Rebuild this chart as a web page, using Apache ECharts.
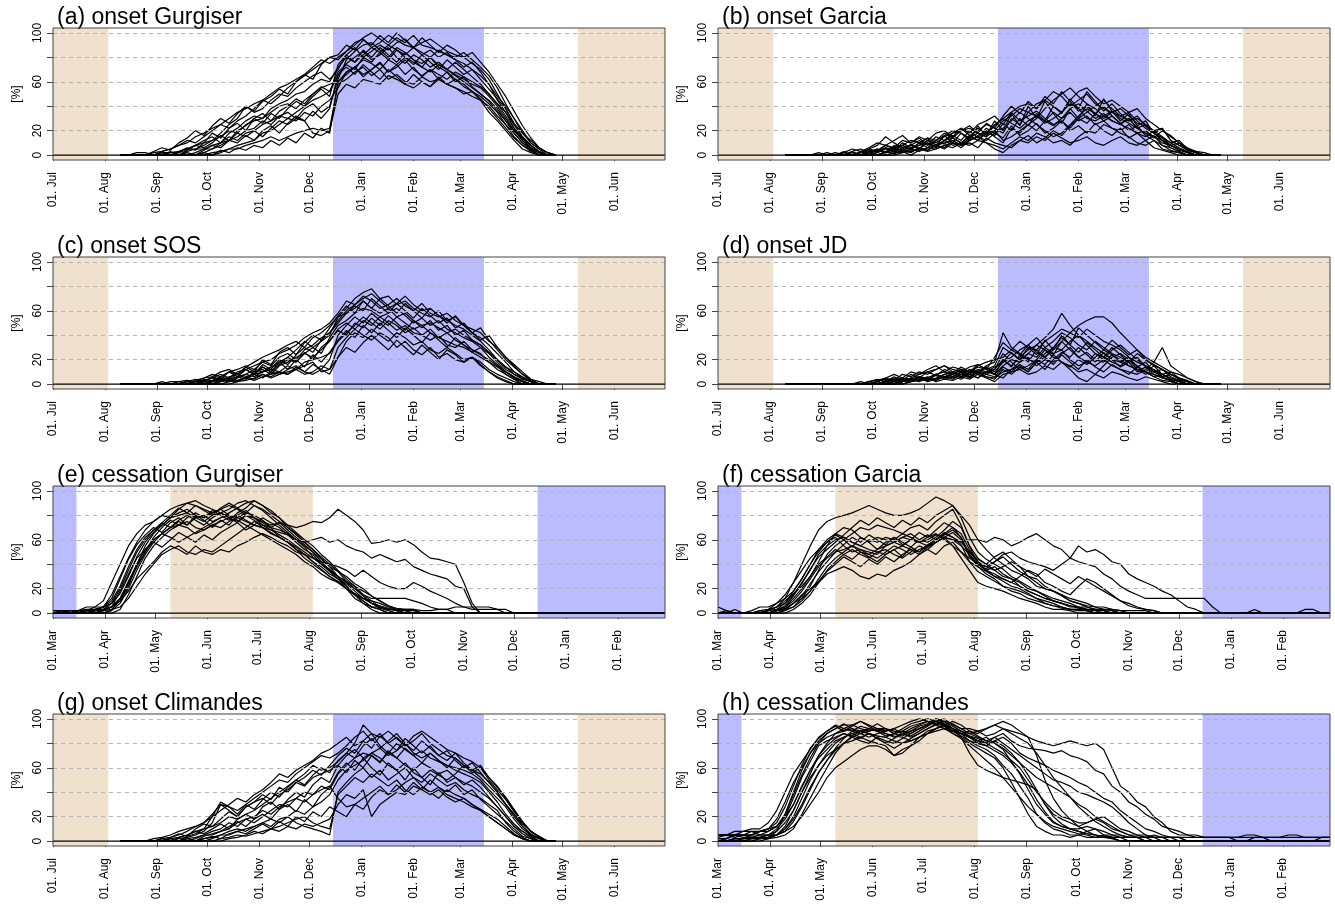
<!DOCTYPE html>
<html>
<head>
<meta charset="utf-8">
<title>Onset / cessation</title>
<script src="https://cdn.jsdelivr.net/npm/echarts@6/dist/echarts.min.js"></script>
<style>
  html, body { margin: 0; padding: 0; background: #fff; }
  #chart { width: 1335px; height: 906px; }
</style>
</head>
<body>
<div id="chart"></div>
<script>
// x axes: days since 01. Jul (onset) or 01. Mar (cessation)
var onsetTicks = [0, 31, 62, 92, 123, 153, 184, 215, 243, 274, 304, 335];
var onsetMonths = ['Jul', 'Aug', 'Sep', 'Oct', 'Nov', 'Dec', 'Jan', 'Feb', 'Mar', 'Apr', 'May', 'Jun'];
var cessTicks = [0, 31, 61, 92, 122, 153, 184, 214, 245, 275, 306, 337];
var cessMonths = ['Mar', 'Apr', 'May', 'Jun', 'Jul', 'Aug', 'Sep', 'Oct', 'Nov', 'Dec', 'Jan', 'Feb'];
var fullRange = [0, 365];
var yTicks = [0, 20, 40, 60, 80, 100];
var yLabels = [0, 20, 60, 100];
var gridLevels = [20, 40, 60, 80, 100];

// shaded seasons [start, end] in days
var onsetTan = [[0, 33], [313, 365]];
var onsetBlue = [[167, 257]];
var cessTan = [[70, 155]];
var cessBlue = [[0, 14], [289, 365]];

// sample days
var onsetDays = [40,45,50,55,60,65,70,75,80,85, 90,95,100,105,110,115,120,125,130,135,
  140,145,150,155,160,165,170,175,180,185, 190,195,200,205,210,215,220,225,230,235,
  240,245,250,255,260,265,270,275,280,285, 290,295,300];
var cessDays = [0,5,10,15,20,25,30,35,40,45, 50,55,60,65,70,75,80,85,90,95,
  100,105,110,115,120,125,130,135,140,145, 150,155,160,165,170,175,180,185,190,195,
  200,205,210,215,220,225,230,235,240,245, 250,255,260,265,270,275,280,285,290,295,
  300,305,310,315,320,325,330,335,340,345, 350,355,360,365];

// [%] per member
var gurgiserOnset = [
  [0,0,0,0,2,3,5,8,10,15, 18,22,25,30,35,38,42,45,50,55, 58,62,66,72,78,75,80,85,92,95, 88,92,98,94,90,88,92,95,90,85, 82,80,75,70,62,50,38,25,15,8, 3,0,0],
  [0,0,0,0,0,0,2,2,5,5, 8,12,18,25,30,40,35,38,45,50, 48,55,60,65,68,62,70,82,88,80, 85,90,86,92,95,88,82,86,80,84, 78,72,76,68,58,45,35,22,12,5, 0,0,0],
  [0,0,0,0,0,0,0,0,3,5, 5,8,10,12,18,15,20,25,28,32, 30,35,40,45,48,52,65,75,80,85, 78,82,88,80,75,82,78,72,76,70, 65,60,55,50,45,38,28,18,10,5, 2,0,0],
  [0,0,0,0,0,0,0,0,0,0, 0,2,3,5,5,8,10,12,15,12, 15,18,20,22,20,22,58,62,68,72, 65,70,62,66,60,58,64,60,62,58, 55,52,48,45,40,32,25,18,10,4, 0,0,0],
  [0,0,2,2,0,3,5,8,12,10, 15,20,25,22,28,32,38,45,42,48, 55,60,65,70,75,80,78,85,90,96, 100,95,90,96,92,98,90,88,85,82, 80,84,78,72,65,55,42,30,18,10, 5,2,0],
  [0,0,0,0,0,0,0,2,5,8, 10,12,15,20,18,25,28,30,35,40, 42,38,45,50,55,58,60,68,72,78, 75,70,78,74,80,76,72,68,74,70, 66,62,58,55,48,40,30,20,12,6, 2,0,0],
  [0,0,0,0,0,0,0,0,0,2, 5,5,8,12,15,20,22,28,25,32, 35,30,38,42,35,40,62,78,85,90, 92,86,80,88,84,78,75,80,72,68, 62,58,52,45,35,28,20,12,5,2, 0,0,0],
  [0,0,0,0,0,0,0,0,0,0, 2,5,10,15,12,18,20,15,22,28, 25,30,28,18,16,20,50,58,55,62, 60,58,65,62,58,55,60,56,62,58, 55,50,52,48,42,35,25,15,8,3, 0,0,0],
  [0,0,0,0,0,2,2,3,5,8, 12,15,10,18,22,28,32,30,38,42, 45,50,52,58,62,60,72,80,76,82, 88,84,90,86,82,88,84,80,86,82, 78,75,70,65,58,48,40,30,20,10, 5,0,0],
  [0,0,0,0,0,0,0,0,0,0, 0,0,2,5,8,10,12,18,20,25, 30,28,35,32,40,45,55,68,72,66, 70,75,68,72,78,70,65,70,66,62, 68,64,60,56,50,42,35,25,15,8, 3,0,0],
  [0,0,0,0,0,2,0,3,6,4, 10,18,14,22,26,20,30,34,28,36, 40,46,42,50,56,52,68,74,70,80, 76,84,78,86,80,74,82,76,70,78, 72,66,70,62,54,46,38,26,18,12, 6,2,0],
  [0,0,0,0,0,0,0,0,0,0, 2,0,4,2,6,4,8,6,12,8, 14,10,18,14,22,18,60,66,72,64, 70,76,68,74,66,72,64,70,62,68, 60,64,56,50,44,36,28,20,14,8, 2,0,0],
  [0,0,0,0,3,6,4,10,14,20, 16,24,30,26,34,40,36,44,48,54, 50,60,66,62,74,80,82,90,86,94, 90,98,92,100,94,88,96,90,84,90, 86,80,84,76,68,58,48,36,24,14, 6,2,0],
  [0,0,0,0,0,0,0,0,2,0, 4,8,6,12,10,16,12,20,24,18, 26,32,28,36,30,38,66,72,66,74, 68,62,70,64,58,66,60,56,64,58, 62,56,52,46,38,30,22,14,8,4, 0,0,0],
  [0,0,0,0,0,0,3,0,4,8, 6,10,16,12,20,24,30,26,34,30, 38,44,40,48,54,48,74,82,76,86, 80,88,82,76,84,78,72,80,74,70, 76,70,64,58,50,42,32,22,14,6, 2,0,0]
];
var garciaOnset = [
  [0,0,0,0,0,0,0,2,0,2, 3,5,2,8,5,3,6,4,8,10, 12,8,14,18,15,20,28,32,38,35, 42,45,52,48,40,45,50,42,38,35, 32,28,30,25,20,15,10,12,5,3, 0,0,0],
  [0,0,0,0,0,0,0,0,2,0, 2,3,6,4,10,6,8,12,10,15, 18,22,16,20,25,22,18,30,25,35, 32,28,35,30,38,42,36,30,34,28, 25,30,22,18,15,10,8,5,2,0, 0,0,0],
  [0,0,0,0,0,0,0,0,0,0, 0,2,5,3,5,8,5,10,6,12, 8,10,15,12,18,20,12,15,20,25, 30,38,45,50,55,48,42,38,32,28, 25,22,18,20,15,12,8,5,3,0, 0,0,0],
  [0,0,0,0,0,0,0,0,0,2, 5,8,15,10,6,8,12,8,15,12, 18,20,22,18,15,25,30,35,28,32, 36,30,25,28,22,30,35,40,45,38, 32,35,28,22,18,12,6,3,0,0, 0,0,0],
  [0,0,0,0,0,0,0,0,0,0, 0,0,2,3,2,5,3,6,8,5, 10,8,12,15,10,8,5,10,15,12, 18,15,10,12,8,15,20,18,25,22, 18,15,10,8,12,5,3,2,0,0, 0,0,0],
  [0,0,0,0,0,2,0,0,3,5, 2,4,8,6,12,10,15,12,18,20, 15,22,18,25,28,32,25,35,40,42, 38,45,40,35,45,52,55,48,42,45, 40,35,38,30,25,20,15,10,6,3, 2,0,0],
  [0,0,0,0,0,0,0,0,0,0, 2,0,3,5,4,6,8,10,7,12, 14,10,12,16,20,15,10,22,18,25, 20,28,24,30,35,28,32,25,28,22, 20,25,18,15,20,22,12,8,5,2, 0,0,0],
  [0,0,0,0,0,0,0,0,0,0, 0,0,0,2,3,0,4,6,5,8, 10,6,12,15,12,18,22,28,35,30, 25,20,15,18,25,32,38,34,30,35, 38,32,26,24,18,14,10,6,3,0, 0,0,0],
  [0,0,0,0,2,0,0,2,5,3, 6,10,8,5,8,12,10,14,12,16, 20,18,14,22,18,24,30,26,22,28, 32,26,30,35,42,38,30,28,32,36, 30,26,22,25,18,12,8,4,2,0, 0,0,0],
  [0,0,0,0,0,0,0,0,0,0, 0,0,0,0,2,3,5,3,5,8, 6,10,8,12,10,5,2,8,12,10, 15,12,18,14,10,12,15,10,8,12, 15,10,8,12,6,4,2,0,0,0, 0,0,0],
  [0,0,0,0,0,0,2,0,3,0, 4,2,6,3,8,5,10,6,12,9, 14,10,16,12,20,16,26,20,30,24, 34,28,40,34,46,38,52,44,36,42, 34,28,32,24,18,22,12,8,4,2, 0,0,0],
  [0,0,0,0,0,0,0,0,0,3, 0,5,2,7,3,9,5,12,8,16, 10,18,12,24,16,28,20,34,24,40, 30,44,34,26,38,30,42,32,46,36, 28,34,24,28,18,14,8,10,4,2, 0,0,0],
  [0,0,0,0,0,0,0,0,0,0, 2,4,2,5,8,4,10,14,8,12, 16,12,20,14,22,18,14,24,16,20, 26,18,22,28,20,24,18,26,20,16, 22,14,18,12,16,8,6,3,0,0, 0,0,0],
  [0,0,0,0,0,0,0,3,0,2, 5,3,8,12,16,10,14,8,12,18, 14,20,24,18,26,22,32,40,34,44, 38,48,42,52,44,36,40,34,28,32, 26,20,24,16,12,8,4,2,0,0, 0,0,0],
  [0,0,0,0,0,0,0,0,0,0, 0,0,3,1,4,2,6,4,8,6, 12,8,10,6,14,10,8,6,12,16, 10,14,20,16,24,30,26,34,40,32, 26,30,22,18,14,20,16,10,5,2, 0,0,0]
];
var sosOnset = [
  [0,0,0,0,0,0,0,0,2,0, 2,5,3,6,8,5,10,12,8,15, 18,22,25,30,35,40,55,62,70,75, 78,70,72,65,68,62,58,55,60,52, 48,45,40,35,28,20,12,8,5,2, 0,0,0],
  [0,0,0,0,0,0,0,0,0,0, 0,2,4,2,5,8,6,10,14,18, 22,28,35,30,25,38,48,52,58,62, 60,55,58,62,56,50,54,48,52,45, 42,38,35,30,25,18,10,5,2,0, 0,0,0],
  [0,0,0,0,0,0,0,0,0,0, 0,0,2,3,2,5,8,5,10,8, 12,15,10,8,12,20,40,48,55,50, 58,52,48,55,50,45,48,42,38,42, 36,32,28,25,18,12,8,4,0,0, 0,0,0],
  [0,0,0,0,0,0,2,2,0,3, 5,8,6,10,12,15,12,18,20,25, 28,32,38,42,45,50,58,68,65,72, 68,62,65,70,64,60,66,58,55,58, 52,48,45,42,35,30,22,15,8,3, 0,0,0],
  [0,0,0,0,0,0,0,0,0,0, 0,0,0,2,3,5,3,6,8,10, 8,12,15,18,10,12,22,35,42,38, 45,40,35,42,38,32,35,28,25,30, 25,20,22,18,12,8,5,2,0,0, 0,0,0],
  [0,0,0,0,0,0,0,0,0,2, 3,5,8,5,10,12,15,18,15,22, 25,20,28,32,38,42,52,60,65,70, 74,68,62,66,72,65,60,62,56,52, 55,48,42,38,32,25,18,10,5,2, 0,0,0],
  [0,0,0,0,0,0,0,0,0,0, 2,3,5,4,6,8,12,10,14,16, 20,18,25,22,28,35,45,50,45,52, 48,55,50,44,48,42,40,45,38,35, 32,30,26,22,18,14,10,6,3,0, 0,0,0],
  [0,0,0,0,0,0,0,0,0,0, 0,0,0,0,2,3,5,8,5,8, 10,12,8,10,15,12,30,38,45,40, 36,42,38,30,35,28,24,30,22,25, 20,18,22,15,10,5,2,0,0,0, 0,0,0],
  [0,0,0,0,0,0,0,2,3,2, 5,6,10,12,8,14,18,22,25,28, 32,35,30,38,42,48,55,58,62,68, 62,58,62,55,58,52,48,50,46,42, 45,40,36,32,26,20,14,8,4,2, 0,0,0],
  [0,0,0,0,0,0,0,0,0,0, 0,2,3,5,3,6,8,10,12,10, 15,12,18,20,22,25,35,42,48,55, 50,45,52,48,42,46,40,36,40,32, 30,35,28,24,20,15,8,4,2,0, 0,0,0],
  [0,0,0,0,0,0,0,0,3,0, 4,2,6,10,6,12,8,16,12,20, 16,24,30,26,36,42,50,58,64,60, 70,64,58,66,60,54,62,56,50,54, 46,50,42,36,40,30,22,16,10,4, 0,0,0],
  [0,0,0,0,0,0,0,0,0,0, 2,0,4,2,6,4,8,14,10,18, 12,20,14,24,18,26,36,44,38,48, 42,50,44,38,46,40,34,42,36,30, 38,32,26,30,22,16,10,6,2,0, 0,0,0],
  [0,0,0,0,0,2,0,0,2,4, 2,6,4,10,8,14,10,20,16,26, 30,24,34,40,36,46,56,64,58,68, 62,70,64,58,66,60,54,62,56,50, 56,48,42,46,36,28,20,14,8,4, 2,0,0],
  [0,0,0,0,0,0,0,0,0,0, 0,0,2,4,2,6,4,8,6,10, 8,14,10,16,12,8,22,30,26,34, 40,34,28,36,30,24,32,26,20,28, 24,18,22,16,10,6,3,0,0,0, 0,0,0],
  [0,0,0,0,0,0,0,0,0,2, 0,3,6,4,8,12,8,14,10,16, 22,18,26,20,30,36,44,40,50,46, 54,48,56,50,44,52,46,52,44,48, 40,44,36,32,26,20,14,10,6,3, 0,0,0]
];
var jdOnset = [
  [0,0,0,0,0,0,0,0,0,0, 2,0,3,5,2,4,6,3,8,5, 6,10,8,5,10,12,20,15,22,28, 32,38,45,58,48,40,35,30,25,20, 18,15,12,10,8,5,3,0,0,0, 0,0,0],
  [0,0,0,0,0,0,0,0,0,0, 0,2,5,3,8,6,10,8,12,15, 10,8,12,10,15,18,42,30,25,20, 18,22,28,35,42,48,52,55,55,50, 42,35,28,22,18,14,10,8,5,2, 0,0,0],
  [0,0,0,0,0,0,0,0,0,0, 0,0,0,2,3,2,4,6,4,8, 10,6,8,12,10,14,18,22,28,32, 38,30,25,28,20,15,18,25,22,18, 15,20,12,10,15,8,5,3,2,0, 0,0,0],
  [0,0,0,0,0,0,0,0,0,0, 0,0,2,0,3,5,8,10,12,15, 12,10,14,16,12,8,15,20,18,25, 22,30,35,42,38,32,28,35,30,25, 22,18,25,20,15,12,8,5,2,0, 0,0,0],
  [0,0,0,0,0,0,0,0,0,2, 0,0,2,4,2,5,3,5,8,6, 8,5,10,8,6,5,10,12,15,10, 18,25,30,28,35,40,32,25,20,15, 12,10,8,12,18,30,15,10,5,2, 0,0,0],
  [0,0,0,0,0,0,0,0,0,0, 0,0,0,0,2,3,5,2,4,6, 5,8,6,10,8,12,25,18,12,15, 20,28,22,18,12,5,2,8,15,22, 25,20,15,10,6,3,2,0,0,0, 0,0,0],
  [0,0,0,0,0,0,0,0,0,0, 2,3,5,8,5,10,8,12,15,10, 14,12,8,15,18,20,22,28,35,30, 28,35,40,45,42,38,45,40,35,32, 28,22,18,15,10,8,4,2,0,0, 0,0,0],
  [0,0,0,0,0,0,0,0,0,0, 0,0,0,2,0,2,4,3,5,8, 6,4,8,5,10,8,5,12,18,22, 15,20,18,25,30,22,18,15,20,28, 32,26,20,15,12,8,10,5,3,0, 0,0,0],
  [0,0,0,0,0,0,0,0,0,0, 0,0,2,3,5,4,6,5,8,10, 8,12,10,14,12,15,30,25,20,25, 32,28,24,35,28,22,26,20,18,24, 20,15,12,8,12,6,3,0,0,0, 0,0,0],
  [0,0,0,0,0,0,0,0,0,0, 0,0,0,0,0,2,3,5,2,4, 3,6,4,8,5,2,8,10,12,8, 10,15,12,18,15,10,12,8,5,10, 8,5,3,6,4,2,0,0,0,0, 0,0,0],
  [0,0,0,0,0,0,0,0,0,0, 0,2,0,3,5,2,6,4,8,5, 10,6,12,8,14,10,18,26,20,30, 24,36,28,40,32,26,34,28,22,30, 24,18,22,14,10,12,6,3,0,0, 0,0,0],
  [0,0,0,0,0,0,0,0,0,0, 0,0,2,0,4,2,6,3,8,4, 6,10,5,12,8,6,14,10,16,12, 20,16,24,18,14,20,16,22,28,24, 18,22,14,18,10,6,8,4,2,0, 0,0,0],
  [0,0,0,0,0,0,0,0,0,0, 2,4,2,6,3,8,5,10,7,12, 9,14,10,16,12,22,34,28,24,32, 26,22,30,38,32,46,40,34,28,36, 30,24,28,20,16,12,8,5,2,0, 0,0,0],
  [0,0,0,0,0,0,0,0,0,0, 0,0,0,0,2,4,2,5,3,6, 4,8,5,10,6,4,12,8,14,10, 18,12,20,26,22,30,24,18,26,20, 14,18,10,14,8,5,3,0,0,0, 0,0,0],
  [0,0,0,0,0,0,0,0,0,0, 0,2,4,2,5,3,6,4,7,5, 8,12,6,10,14,8,20,14,24,18, 28,22,16,24,18,12,20,14,10,16, 12,8,14,10,6,8,4,2,0,0, 0,0,0]
];
var climandesOnset = [
  [0,0,0,0,2,3,5,8,10,12, 15,22,30,28,25,30,35,40,45,50, 48,55,60,65,70,68,72,78,85,90, 82,88,80,85,78,82,88,80,75,70, 68,62,58,55,48,40,30,20,12,5, 2,0,0],
  [0,0,0,0,0,0,2,3,5,8, 10,12,15,20,18,22,25,30,35,40, 45,50,55,62,58,60,65,72,80,95, 88,78,72,80,75,70,74,68,65,62, 58,55,52,48,40,32,22,14,8,3, 0,0,0],
  [0,0,0,0,0,0,0,0,2,3, 5,8,10,15,12,18,20,25,22,28, 32,35,40,38,45,42,55,62,68,72, 70,65,72,68,62,58,64,60,55,58, 52,48,45,40,35,28,20,12,8,4, 0,0,0],
  [0,0,0,0,0,0,0,0,0,0, 0,2,5,8,10,8,12,15,12,18, 20,15,12,10,8,5,40,48,55,60, 52,58,50,55,60,52,48,55,50,45, 48,42,38,35,30,25,15,8,3,0, 0,0,0],
  [0,0,0,0,0,2,3,5,8,12, 15,20,25,30,35,32,38,42,48,55, 52,58,62,66,72,75,80,85,78,82, 88,85,90,84,78,86,90,85,80,75, 72,68,65,60,52,45,35,25,15,8, 3,0,0],
  [0,0,0,0,0,0,0,0,0,2, 5,5,8,10,15,18,15,20,25,30, 28,35,32,38,42,45,35,28,30,35, 40,45,38,42,48,52,45,40,44,38, 35,32,28,25,20,15,10,5,2,0, 0,0,0],
  [0,0,0,0,0,0,0,0,0,0, 2,3,5,5,8,10,12,15,18,15, 20,25,22,28,32,38,50,58,62,66, 72,68,62,58,64,56,52,58,54,50, 55,62,58,52,45,38,30,22,12,6, 2,0,0],
  [0,0,0,0,0,0,0,0,0,0, 0,0,2,3,5,4,6,8,10,12, 15,18,20,15,12,10,38,45,52,48, 55,50,45,50,42,38,44,40,35,42, 38,35,30,26,22,18,12,6,2,0, 0,0,0],
  [0,0,0,0,0,0,0,2,3,5, 8,15,30,25,20,28,32,35,30,38, 42,48,45,52,55,58,62,70,75,68, 72,76,70,74,80,72,68,72,66,62, 60,58,55,50,42,35,28,18,10,5, 0,0,0],
  [0,0,0,0,0,0,0,0,0,0, 0,0,0,2,3,5,8,6,10,8, 12,10,14,12,15,18,30,38,35,42, 20,30,35,40,38,45,42,38,42,36, 32,35,30,25,20,15,10,5,2,0, 0,0,0],
  [0,0,0,0,0,0,2,0,4,6, 10,20,32,28,22,30,26,34,40,36, 44,50,46,54,60,56,66,72,68,78, 84,76,82,88,80,74,82,76,70,74, 66,60,64,56,48,40,30,22,14,8, 3,0,0],
  [0,0,0,0,0,0,0,0,2,0, 4,6,8,12,16,12,18,22,18,26, 30,24,34,28,38,44,56,64,58,68, 60,54,64,58,50,60,52,46,56,48, 52,46,50,44,36,28,20,12,6,2, 0,0,0],
  [0,0,0,0,0,2,0,3,5,8, 6,10,14,10,18,22,18,28,32,26, 34,40,36,46,52,48,62,56,66,60, 70,64,74,68,76,70,64,72,66,60, 68,62,56,60,50,42,34,24,16,8, 4,0,0],
  [0,0,0,0,0,0,0,0,0,0, 2,4,2,6,8,6,10,14,10,16, 12,20,16,24,20,28,24,20,30,26, 36,42,38,46,40,48,42,50,44,40, 46,38,42,34,28,22,16,10,4,2, 0,0,0],
  [0,0,0,0,0,0,3,6,4,10, 14,12,18,24,20,28,32,38,34,44, 40,48,52,58,54,62,70,76,72,82, 76,86,80,74,84,78,72,78,70,66, 72,64,58,62,52,44,36,26,16,8, 3,0,0]
];
var gurgiserCess = [
  [0,0,2,2,2,5,10,25,40,55, 65,72,75,80,78,82,85,80,78,82, 85,80,78,75,72,70,65,62,58,52, 48,42,38,32,28,22,15,10,5,3, 0,0,0,0,0,0,0,0,0,0, 0,0,0,0,0,0,0,0,0,0, 0,0,0,0,0,0,0,0,0,0, 0,0,0,0],
  [0,0,0,2,2,2,5,15,30,45, 58,68,75,80,85,88,90,88,85,82, 85,88,85,80,78,75,72,74,72,70, 72,75,74,78,85,80,75,68,57,58, 60,58,60,56,50,45,44,42,40,25, 8,0,0,0,0,0,0,0,0,0, 0,0,0,0,0,0,0,0,0,0, 0,0,0,0],
  [0,0,0,0,2,2,3,5,12,25, 38,50,60,65,70,72,75,70,68,72, 75,78,80,76,72,70,68,66,64,60, 58,60,62,58,60,55,52,50,45,48, 45,42,44,38,35,32,30,28,22,20, 5,0,0,0,0,0,0,0,0,0, 0,0,0,0,0,0,0,0,0,0, 0,0,0,0],
  [0,0,0,0,0,3,3,5,10,18, 28,35,42,50,55,52,48,55,50,48, 52,50,55,58,62,65,62,58,55,50, 48,45,42,40,38,35,30,35,30,25, 22,20,20,25,22,18,15,12,8,5, 5,5,5,3,0,0,0,0,0,0, 0,0,0,0,0,0,0,0,0,0, 0,0,0,0],
  [0,0,0,0,0,0,2,3,5,12, 22,32,40,48,52,55,50,48,52,50, 55,60,65,70,75,72,68,64,60,55, 50,45,40,35,30,25,20,15,12,12, 12,12,12,10,8,5,3,3,0,0, 0,0,0,0,0,0,0,0,0,0, 0,0,0,0,0,0,0,0,0,0, 0,0,0,0],
  [2,2,2,2,5,5,5,8,20,35, 50,60,68,72,78,85,90,92,88,85, 82,85,90,92,88,85,80,75,70,65, 58,52,45,38,30,22,15,8,5,3, 0,0,0,0,0,0,0,0,0,0, 0,0,0,0,0,0,0,0,0,0, 0,0,0,0,0,0,0,0,0,0, 0,0,0,0],
  [0,0,0,0,0,0,0,2,8,20, 35,48,58,65,70,75,72,78,80,75, 78,82,86,90,92,88,82,78,72,66, 60,55,48,42,35,28,22,15,10,5, 3,2,0,0,0,0,0,0,0,0, 0,0,0,0,0,0,0,0,0,0, 0,0,0,0,0,0,0,0,0,0, 0,0,0,0],
  [0,0,0,0,0,2,2,5,10,22, 40,55,65,72,78,80,82,78,75,80, 82,78,75,80,78,72,70,68,65,60, 55,50,42,35,28,20,12,8,3,0, 0,0,0,0,0,0,0,0,0,0, 0,0,0,0,0,0,0,0,0,0, 0,0,0,0,0,0,0,0,0,0, 0,0,0,0],
  [0,0,0,0,0,0,0,0,3,15, 30,45,55,62,68,72,70,65,68,72, 70,75,78,82,80,76,70,62,58,52, 45,40,35,30,25,20,15,10,5,5, 3,3,0,0,0,0,0,0,0,0, 0,0,0,0,0,0,0,0,0,0, 0,0,0,0,0,0,0,0,0,0, 0,0,0,0],
  [0,0,2,2,3,3,5,5,18,32, 45,52,60,65,62,58,62,66,70,74, 78,80,76,72,68,64,60,56,52,48, 42,38,32,28,25,20,15,12,10,8, 5,3,3,3,2,2,3,3,5,5, 3,3,3,3,3,0,0,0,0,0, 0,0,0,0,0,0,0,0,0,0, 0,0,0,0],
  [0,2,0,2,0,3,5,12,28,44, 56,64,70,66,74,78,72,80,76,70, 76,72,80,84,78,74,70,74,68,62, 56,50,44,38,34,26,20,14,8,4, 2,0,0,0,0,0,0,0,0,0, 0,0,0,0,0,0,0,0,0,0, 0,0,0,0,0,0,0,0,0,0, 0,0,0,0],
  [0,0,0,0,0,0,3,8,16,30, 46,58,66,74,80,86,82,88,84,80, 86,90,86,82,88,84,78,72,66,60, 54,46,40,34,28,24,18,12,8,6, 4,2,0,0,0,0,0,0,0,0, 0,0,0,0,0,0,0,0,0,0, 0,0,0,0,0,0,0,0,0,0, 0,0,0,0],
  [0,0,0,2,2,2,2,5,12,26, 40,52,58,54,60,66,62,58,64,60, 66,70,74,68,72,78,74,70,64,58, 52,48,40,36,30,26,22,18,14,10, 6,4,3,3,0,0,0,0,0,0, 0,0,0,0,0,0,0,0,0,0, 0,0,0,0,0,0,0,0,0,0, 0,0,0,0],
  [0,0,0,0,0,0,0,3,10,24, 38,50,62,70,76,72,78,82,78,84, 80,76,82,86,92,88,84,78,70,64, 58,52,46,40,34,30,24,20,14,10, 6,3,2,0,0,0,0,0,0,0, 0,0,0,0,0,0,0,0,0,0, 0,0,0,0,0,0,0,0,0,0, 0,0,0,0],
  [2,2,0,0,2,2,5,10,22,38, 52,62,68,74,70,76,80,76,72,78, 82,78,74,80,76,70,66,62,58,54, 48,42,36,30,26,20,16,12,8,5, 3,3,2,2,0,0,0,0,0,0, 0,0,0,0,0,0,0,0,0,0, 0,0,0,0,0,0,0,0,0,0, 0,0,0,0]
];
var garciaCess = [
  [5,2,0,0,0,0,2,5,12,25, 40,55,68,75,78,80,82,85,88,85, 82,80,80,82,85,90,95,92,88,80, 72,60,52,45,40,35,32,28,22,20, 18,15,12,10,8,5,5,3,2,0, 0,0,0,0,0,0,0,0,0,0, 0,0,0,0,0,0,0,0,0,0, 0,0,0,0],
  [0,0,0,0,0,2,3,5,8,15, 25,35,48,55,60,62,58,55,60,58, 62,60,65,62,58,60,64,62,60,58, 60,60,58,62,60,55,58,62,65,60, 55,52,45,42,40,38,32,28,22,18, 15,12,12,12,12,12,12,12,12,5, 0,0,0,0,0,0,0,0,0,0, 0,0,0,0],
  [0,0,0,0,2,5,5,8,12,18, 28,40,52,60,65,62,58,55,52,50, 48,52,55,60,58,62,65,60,55,50, 45,40,38,42,48,50,45,42,40,38, 35,40,45,55,50,52,48,42,40,32, 28,25,22,18,15,10,5,3,0,0, 0,0,0,0,0,0,0,0,0,0, 0,0,0,0],
  [0,0,0,0,0,0,2,3,5,10, 18,28,38,45,50,52,55,50,48,52, 55,58,62,60,58,55,60,65,62,58, 50,42,38,35,30,28,25,20,18,15, 12,10,8,5,3,2,2,0,0,0, 0,0,0,0,0,0,0,0,0,0, 0,0,0,0,0,0,0,0,0,0, 0,0,0,0],
  [0,0,0,0,0,0,0,2,3,8, 15,20,25,32,35,38,35,30,28,32, 30,35,38,42,48,52,58,62,55,45, 35,25,22,20,18,15,12,10,8,5, 3,3,2,0,0,0,0,0,0,0, 0,0,0,0,0,0,0,0,0,0, 0,0,0,0,0,0,0,0,0,0, 0,0,0,0],
  [0,0,0,0,0,0,0,0,2,5, 12,22,35,48,55,60,65,70,68,72, 70,68,65,70,72,68,75,80,85,72, 55,45,40,35,38,42,38,30,25,20, 18,15,10,8,5,3,2,0,0,0, 0,0,0,0,0,0,0,0,0,0, 0,0,0,0,0,0,0,0,0,0, 0,0,0,0],
  [0,2,0,0,0,0,3,8,15,25, 35,45,52,58,62,55,50,52,48,45, 50,55,52,48,52,55,58,62,60,55, 48,40,35,32,28,25,30,35,32,25, 22,18,15,22,28,25,20,15,10,8, 5,3,2,0,0,0,0,0,0,0, 0,0,0,0,0,0,0,0,0,0, 0,0,0,0],
  [0,0,0,0,0,0,0,2,5,12, 20,30,42,55,65,70,68,62,58,62, 60,58,55,52,50,55,60,65,70,65, 52,42,35,30,28,25,22,18,15,12, 10,8,5,5,3,3,3,2,0,0, 0,0,0,0,0,0,0,0,0,0, 0,0,0,0,0,0,0,0,0,0, 0,0,0,0],
  [0,0,0,0,0,0,0,0,0,3, 8,15,25,35,42,48,52,48,45,50, 52,48,45,50,55,52,48,55,58,50, 42,38,32,28,22,20,18,15,12,10, 8,5,3,3,2,0,0,0,0,0, 0,0,0,0,0,0,0,0,0,0, 0,0,0,0,0,0,0,0,0,0, 0,0,0,0],
  [0,0,0,0,0,0,0,2,3,5, 10,18,28,38,45,50,55,52,50,48, 55,58,62,65,60,58,62,68,75,70, 55,40,35,38,32,28,22,18,15,12, 10,8,6,5,5,3,3,3,2,2, 2,2,0,0,0,0,0,0,0,0, 0,0,0,0,3,0,0,0,0,0, 3,3,0,0],
  [0,0,3,0,0,0,0,3,8,18, 28,40,50,58,64,60,54,62,58,52, 58,62,56,60,66,62,68,74,70,62, 48,38,34,30,26,22,20,16,12,8, 6,5,3,3,2,0,0,0,0,0, 0,0,0,0,0,0,0,0,0,0, 0,0,0,0,0,0,0,0,0,0, 0,0,0,0],
  [0,0,0,0,0,0,2,5,10,16, 22,30,40,46,52,48,44,50,46,42, 48,52,46,54,50,56,60,64,68,62, 46,40,36,42,46,40,34,30,28,22, 18,14,10,8,6,5,3,2,0,0, 0,0,0,0,0,0,0,0,0,0, 0,0,0,0,0,0,0,0,0,0, 0,0,0,0],
  [0,0,0,0,0,0,0,0,3,8, 14,24,34,42,50,56,62,58,64,60, 56,62,58,54,60,64,60,66,62,56, 42,34,30,26,22,18,16,12,10,8, 6,4,3,2,2,0,0,0,0,0, 0,0,0,0,0,0,0,0,0,0, 0,0,0,0,0,0,0,0,0,0, 0,0,0,0],
  [0,0,0,0,0,0,0,2,4,8, 12,18,26,34,40,46,42,38,44,40, 46,42,48,52,48,54,58,62,66,60, 50,44,40,46,50,44,38,34,30,36, 32,28,24,30,26,22,18,14,10,6, 4,3,2,0,0,0,0,0,0,0, 0,0,0,0,0,0,0,0,0,0, 0,0,0,0],
  [0,0,0,0,0,2,0,2,6,14, 24,36,46,52,58,64,70,76,72,78, 74,70,76,72,78,74,80,84,88,78, 62,50,44,40,36,30,26,22,18,14, 10,8,6,4,3,2,0,0,0,0, 0,0,0,0,0,0,0,0,0,0, 0,0,0,0,0,0,0,0,0,0, 0,0,0,0]
];
var climandesCess = [
  [5,5,8,8,10,10,15,25,40,55, 65,75,85,90,95,92,90,88,85,88, 90,92,88,90,92,95,98,100,95,92, 92,90,92,95,92,90,88,85,82,80, 78,80,82,80,78,80,75,60,45,40, 32,28,20,15,8,5,5,3,3,3, 3,3,0,0,3,3,0,0,0,0, 0,0,3,3],
  [0,2,5,5,5,8,10,18,32,48, 60,72,80,85,88,90,92,90,88,86, 85,88,90,88,92,95,98,95,90,88, 85,82,80,85,88,82,78,76,75,74, 72,74,70,68,65,58,55,45,40,32, 28,22,18,12,10,8,5,5,3,3, 3,3,3,5,5,3,3,3,5,5, 3,3,3,3],
  [0,0,2,2,5,5,8,12,20,35, 52,65,78,82,85,88,85,82,80,85, 82,80,84,88,92,95,100,98,92,88, 85,80,78,82,85,80,72,68,65,62, 58,55,52,48,45,40,35,32,25,20, 15,10,8,5,3,3,0,0,0,0, 0,0,0,0,0,0,0,0,0,0, 0,0,0,0],
  [5,5,5,3,3,5,5,8,15,25, 40,55,70,80,88,92,95,98,95,92, 90,92,95,98,100,98,95,92,90,88, 82,78,75,70,62,55,45,35,22,15, 10,8,5,5,3,3,5,5,3,3, 3,0,0,0,0,0,0,0,0,0, 0,0,0,0,0,0,0,0,0,0, 0,0,0,0],
  [0,0,0,2,2,3,5,5,10,20, 35,50,62,72,80,85,88,90,92,90, 88,85,88,92,95,98,95,92,88,85, 80,76,72,68,60,48,35,22,12,8, 5,5,3,5,8,10,5,3,0,0, 0,0,0,0,0,0,0,0,0,0, 0,0,0,0,0,0,0,0,0,0, 0,0,0,0],
  [0,0,0,0,0,2,3,5,8,12, 20,30,40,52,60,65,70,75,78,78, 75,70,75,78,82,88,92,95,92,85, 72,62,58,55,52,50,48,46,42,30, 22,18,15,12,15,18,15,10,8,5, 5,3,3,0,0,0,0,0,0,0, 0,0,0,0,0,0,0,0,0,0, 0,0,0,0],
  [2,2,5,5,8,8,10,12,20,30, 45,58,68,75,82,85,88,85,82,80, 78,70,72,78,85,90,92,95,90,88, 85,82,85,80,75,65,55,42,30,22, 15,12,10,10,12,10,8,5,5,3, 3,3,5,3,3,0,0,0,0,0, 0,0,0,0,0,0,0,0,0,0, 0,0,0,0],
  [0,0,2,2,2,2,3,8,22,40, 58,72,82,88,92,95,95,92,90,92, 88,86,85,82,85,88,92,95,98,95, 90,88,92,95,98,95,90,85,70,50, 35,25,18,12,8,5,3,3,0,0, 0,0,0,0,0,0,0,0,0,0, 0,0,0,0,0,0,0,0,0,0, 0,0,0,0],
  [5,5,5,5,3,3,3,5,12,25, 40,52,62,70,75,80,82,85,88,86, 85,82,80,82,85,88,90,92,90,88, 86,84,80,76,72,66,60,50,40,32, 25,20,18,15,15,18,20,15,10,8, 5,5,3,3,3,3,0,0,0,0, 0,0,0,0,0,0,0,0,0,0, 0,0,0,0],
  [0,0,0,0,0,0,2,3,5,10, 22,35,48,60,72,80,85,88,90,92, 92,90,88,85,88,92,95,98,96,92, 88,85,82,85,80,75,70,65,60,55, 50,48,45,40,38,35,32,28,22,15, 10,5,3,3,0,0,0,0,0,0, 0,0,0,0,0,0,0,0,0,0, 0,0,0,0],
  [3,5,3,5,5,8,8,12,22,38, 54,68,80,88,92,96,92,88,92,96, 92,88,90,94,96,98,96,94,90,86, 82,80,78,74,70,64,56,46,34,24, 16,12,10,8,6,5,4,3,3,0, 0,0,0,0,0,0,0,0,0,0, 0,0,0,0,0,0,0,0,0,0, 0,0,0,0],
  [0,0,2,2,3,3,5,10,18,30, 44,58,70,78,84,88,86,90,88,84, 80,84,88,86,90,94,98,96,92,90, 88,90,86,88,92,88,84,80,72,62, 52,44,36,28,22,16,12,8,5,3, 3,0,0,0,0,0,0,0,0,0, 0,0,0,0,0,0,0,0,0,0, 0,0,0,0],
  [5,5,5,8,8,5,5,5,10,18, 30,44,56,66,74,80,86,84,88,84, 80,76,80,84,88,92,96,98,94,90, 86,82,78,82,78,72,64,54,42,30, 20,14,10,8,6,5,4,3,3,3, 3,3,3,3,3,3,3,3,3,3, 3,3,3,3,3,3,3,3,3,3, 3,3,3,3],
  [0,0,0,0,2,2,2,5,8,16, 28,42,56,66,76,84,90,94,92,90, 86,88,92,96,98,100,98,94,88,84, 78,72,66,60,52,44,36,28,22,16, 12,10,8,6,5,3,3,2,0,0, 0,0,0,0,0,0,0,0,0,0, 0,0,0,0,0,0,0,0,0,0, 0,0,0,0],
  [2,2,5,5,5,8,10,15,28,45, 62,76,84,90,94,90,94,98,94,90, 92,88,86,90,94,96,100,96,92,88, 90,86,82,80,76,70,64,58,52,48, 44,40,36,30,26,20,16,12,8,5, 3,3,0,0,0,0,0,0,0,0, 0,0,0,0,0,0,0,0,0,0, 0,0,0,0]
];

var panels = [
  { title: '(a) onset Gurgiser', kind: 'onset', lines: gurgiserOnset },
  { title: '(b) onset Garcia', kind: 'onset', lines: garciaOnset },
  { title: '(c) onset SOS', kind: 'onset', lines: sosOnset },
  { title: '(d) onset JD', kind: 'onset', lines: jdOnset },
  { title: '(e) cessation Gurgiser', kind: 'cess', lines: gurgiserCess },
  { title: '(f) cessation Garcia', kind: 'cess', lines: garciaCess },
  { title: '(g) onset Climandes', kind: 'onset', lines: climandesOnset },
  { title: '(h) cessation Climandes', kind: 'cess', lines: climandesCess }
];

var FONT = 'Liberation Sans, Arial, sans-serif';
var TAN = '#f0e1cf';
var BLUE = '#bbbbff';
var colLeft = [53, 718];
var rowTop = [28, 257, 486, 714];

var grids = [], xAxes = [], yAxes = [], titles = [], series = [];

panels.forEach(function (p, i) {
  var col = i % 2, row = Math.floor(i / 2);
  var onset = p.kind === 'onset';
  var ticks = onset ? onsetTicks : cessTicks;
  var months = onset ? onsetMonths : cessMonths;
  var days = onset ? onsetDays : cessDays;
  var tan = onset ? onsetTan : cessTan;
  var blue = onset ? onsetBlue : cessBlue;

  grids.push({
    left: colLeft[col], top: rowTop[row], width: 612, height: 132,
    show: true, borderColor: '#444', borderWidth: 1, z: 10
  });
  titles.push({
    text: p.title, left: colLeft[col] + 4, top: rowTop[row] - 22, padding: 0,
    textStyle: { fontFamily: FONT, fontSize: 23, fontWeight: 'normal', color: '#000' }
  });
  xAxes.push({
    type: 'value', gridIndex: i, min: 0, max: 365,
    axisLine: { show: false },
    axisTick: { show: true, length: 6, customValues: ticks, lineStyle: { color: '#444' } },
    axisLabel: {
      customValues: ticks, rotate: 90, margin: 12, fontSize: 12, fontFamily: FONT, color: '#000',
      formatter: function (v) { return '01. ' + months[ticks.indexOf(v)]; }
    },
    splitLine: { show: false }
  });
  yAxes.push({
    type: 'value', gridIndex: i, min: -4, max: 104,
    name: '[%]', nameLocation: 'middle', nameRotate: 90, nameGap: 30,
    nameTextStyle: { fontFamily: FONT, fontSize: 12, color: '#000' },
    axisLine: { show: false },
    axisTick: { show: true, length: 6, customValues: yTicks, lineStyle: { color: '#444' } },
    axisLabel: { customValues: yLabels, rotate: 90, margin: 9, fontSize: 12, fontFamily: FONT, color: '#000' },
    splitLine: { show: false }
  });

  var areas = [];
  tan.forEach(function (r) { areas.push([{ xAxis: r[0], itemStyle: { color: TAN } }, { xAxis: r[1] }]); });
  blue.forEach(function (r) { areas.push([{ xAxis: r[0], itemStyle: { color: BLUE } }, { xAxis: r[1] }]); });

  series.push({
    type: 'line', xAxisIndex: i, yAxisIndex: i, z: 1, silent: true,
    data: fullRange.map(function (d) { return [d, 0]; }),
    showSymbol: false, lineStyle: { width: 0, opacity: 0 },
    markArea: { silent: true, data: areas, itemStyle: { opacity: 1 } }
  });
  series.push({
    type: 'line', xAxisIndex: i, yAxisIndex: i, z: 2, silent: true,
    data: [], showSymbol: false,
    markLine: {
      silent: true, symbol: ['none', 'none'], label: { show: false },
      lineStyle: { type: [4, 4], color: '#b4b4b4', width: 1 },
      data: gridLevels.map(function (v) { return { yAxis: v }; })
    }
  });
  p.lines.forEach(function (vals) {
    series.push({
      type: 'line', xAxisIndex: i, yAxisIndex: i, z: 3, silent: true,
      data: vals.map(function (v, k) { return [days[k], v]; }),
      showSymbol: false, lineStyle: { color: '#000', width: 1.2 }
    });
  });
  series.push({
    type: 'line', xAxisIndex: i, yAxisIndex: i, z: 4, silent: true,
    data: fullRange.map(function (d) { return [d, 0]; }),
    showSymbol: false, lineStyle: { color: '#000', width: 1.2 }
  });
});

var chart = echarts.init(document.getElementById('chart'));
chart.setOption({
  animation: false,
  backgroundColor: '#fff',
  title: titles,
  grid: grids,
  xAxis: xAxes,
  yAxis: yAxes,
  series: series
});
</script>
</body>
</html>
